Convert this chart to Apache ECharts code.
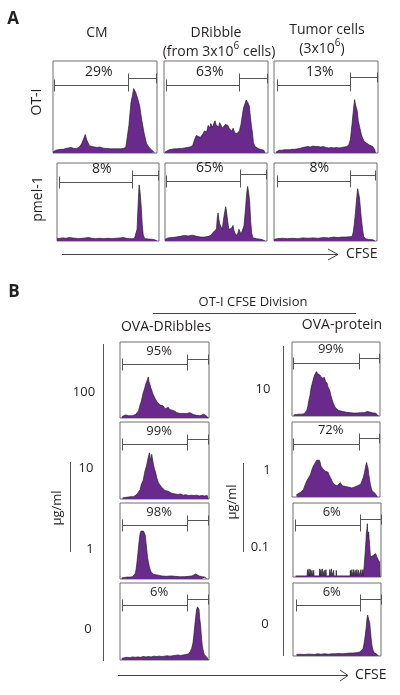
<!DOCTYPE html>
<html><head><meta charset="utf-8">
<script src="https://cdn.jsdelivr.net/npm/echarts@6/dist/echarts.min.js"></script>
<style>html,body{margin:0;padding:0;background:#fff}#c{width:400px;height:695px}</style>
</head><body><div id="c"></div>
<script>
// ---------- DATA (CFSE channel % of range, cell count % of panel height) ----------
const histOT_CM = [[0,1],[2.5,3],[5,3.5],[7.5,4],[10,4],[12.5,5],[15,5.5],[17.5,6],[20,5],[22.5,5],[25,6],[27.5,10],[30,17],[31,20],[32.5,14],[35,8],[37.5,7],[40,6.5],[42.5,6],[45,6.5],[47.5,5.5],[50,5],[52.5,5],[55,4.5],[57.5,4.5],[60,4.5],[62.5,4.5],[65,4.5],[67.5,5],[70,6],[71,8],[73,30],[75,55],[76.5,63],[77.5,70],[78.5,72],[79.5,66],[80.5,67],[82,57],[83.5,50],[85,38],[87.5,22],[90,10],[92.5,6],[95,3],[97,1],[97.5,0]];
const histOT_DR = [[1,1],[2.5,3],[5,3.5],[7.5,4],[10,4.5],[12.5,4.5],[15,5],[17.5,5],[20,5.5],[22.5,6],[25,6.5],[27.5,8],[29.5,15],[31,19],[33,18],[35,17],[37.5,21],[39,24],[40,26],[41,23],[42.5,30],[44,27],[45,32],[46.5,28],[47.5,30],[49,35],[50,31],[51,33],[52.5,28],[53.5,33],[55,30],[56,27],[57.5,26],[59,31],[60,29],[61.5,30],[62.5,27],[64,25],[65,24],[66.5,27],[68,22],[70,21],[71,20],[72.5,24],[74,31],[75.5,42],[76.5,49],[78,54],[79,57.5],[80.5,55],[82,51],[83,40],[84,30],[85,22],[86,11],[87.5,7],[89,5.5],[91,4.5],[93.5,3.7],[96,3],[97,0]];
const histOT_TU = [[2,1],[3.5,2.5],[5,3],[7.5,3],[10,3.5],[12.5,3.5],[15,3.5],[17.5,4],[20,4],[22.5,4.5],[25,5],[27.5,6],[30,6.5],[32.5,7],[35,6.5],[37.5,7.5],[40,7],[42.5,7],[45,6.5],[47.5,7],[50,6],[52.5,5.5],[55,6],[57.5,5.5],[60,6],[62.5,5.5],[65,6],[67.5,6.5],[70,7],[72,9],[73.5,15],[75,31],[76.5,48],[77.5,58],[78.5,52],[80,46],[81,35],[82.6,27],[84,20],[85,16.5],[87,12],[88,11],[90,10],[92,8.5],[93,8.4],[95,7],[96,5.5],[97,3],[97.5,0]];
const histPM_CM = [[0,3],[3,3.5],[6,4],[9,3.5],[12,4.5],[15,4],[18,3.5],[21,3],[25,3.5],[28,4],[31,4.5],[34,3.5],[38,3],[42,3.5],[46,3],[50,3.5],[54,3],[58,3.5],[62,4],[65,4.5],[68,3.5],[71,3],[74,3],[76,3.5],[77.5,6],[78.5,15],[79.5,45],[80.5,72],[81.5,62],[82.5,45],[83.5,22],[84.5,8],[86,3],[90,2.5],[95,2],[98,0]];
const histPM_DR = [[0,2],[3,4],[7,4.5],[11,5],[15,6],[19,7],[23,6.5],[27,7.5],[31,6],[35,5],[39,5],[43,6],[45.5,8],[47,11],[49,13],[50.5,16],[51.3,30],[52,36],[52.8,28],[53.6,22],[55,18],[56.2,15],[57,24],[58,33],[59.5,44],[60.3,38],[61,30],[62,20],[62.7,15],[64,17],[65,16],[66.7,20],[67.5,14],[68.6,10],[70,7],[70.6,6],[71.5,10],[72.5,15],[73.5,12],[74.5,9],[76,14],[77.5,20],[79,42],[80,60],[81,70],[82,62],[83,50],[84,25],[85,10],[86.3,4],[89.5,3],[95,2],[98,0]];
const histPM_TU = [[0,2],[3,3],[8,3.5],[13,3],[18,3.5],[23,3],[28,4],[33,3.5],[38,4],[43,3.5],[48,4.5],[53,4],[58,5],[62,4.5],[66,5],[70,5],[74,5.5],[76,6],[77,12],[78,22],[79,35],[80,51],[81.2,67],[82,62],[83,55],[84,40],[84.7,30],[86,15],[87,6],[88.6,3],[92,2],[96,1.5],[98,0]];
const histDRb100 = [[2,1.5],[4,2.5],[6,4],[8,2.5],[10,3],[12,4.5],[14,3],[16,3.5],[18,5],[19.5,7],[21,10],[22.5,17],[24,22],[26,33],[27.5,38],[28.8,44],[29.7,47],[30.7,50],[31.8,54],[32.5,48],[33.7,44],[34.5,40],[35.6,37],[36.5,33],[37.5,31],[39.3,26],[40,28],[41.2,22],[43,20],[45,17],[46.8,15],[48.5,16],[50.6,12],[52.5,14],[54.3,14],[56,11],[58,11],[60,10],[61.8,9],[64,7],[65.5,8],[67.5,6],[69.3,7],[71,6],[73,8],[75,6],[76.8,5],[78.5,7],[80.5,6],[82.5,4.5],[84.3,5],[86,3.5],[88,4.5],[90,3],[92,3.5],[94,5],[95.5,5],[97,3],[98.5,3],[99,0]];
const histDRb10 = [[3,1.5],[6,2],[9,2.5],[12,3],[15,3],[17,4],[19,6],[20.5,8],[22.5,12],[24,19],[26,24],[28,36],[30,44],[31,50],[32,55],[33,60],[34,54],[35,50],[35.6,58],[36.5,52],[37.5,45],[38.5,40],[39.3,37],[40.5,32],[41.2,28],[43,21.5],[45,18],[47,15],[49,14],[50.5,11],[52,12],[54,10],[56,9],[58,7.5],[60,8],[62,6.5],[65,6],[68,6.5],[71,5],[74,5.5],[77,4.5],[80,5],[83,4.5],[86,5],[89,4],[92,4.5],[95,4],[98,4.5],[99,0]];
const histDRb1 = [[2,1.5],[5,2],[8,2.5],[11,2.5],[14,3],[15.5,4],[17,7],[18,12],[18.9,20],[20,32],[20.8,42],[21.7,52],[22.6,60],[23.5,63],[24.5,64],[25.5,64.5],[26.4,63],[27.3,61],[28.3,58],[29.2,48],[30.2,37],[31,28],[32,22],[33,16],[34,12],[35,9],[36,7.5],[38,6],[40,5.5],[43,5],[47,4],[52,3.5],[57,4],[62,3.5],[67,3],[72,3],[77,3.5],[81,4],[83,5],[85,6.5],[87,5.5],[89,4],[92,3],[96,2.5],[97,0]];
const histDRb0 = [[2,2],[5,3],[8,3.5],[11,3],[14,4],[17,3.5],[20,4],[23,3.5],[26,4.5],[29,4],[32,4.5],[35,4],[38,5],[41,4.5],[44,5],[47,4.5],[50,5],[53,5.5],[56,5],[59,5.5],[62,6],[65,6.5],[68,6],[71,6.5],[74,7],[77,8],[79,11],[80.5,15],[82,22],[83,32],[84,44],[85,55],[86,65],[87,69],[87.5,70],[88.2,68],[88.7,66],[89.5,55],[90.6,44],[91.7,27],[92.5,18],[93.2,14],[94,10],[94.7,7],[96,5],[98,3],[99,0]];
const histProt10 = [[2,1.5],[5,2],[8,2.5],[11,2.5],[14,3],[15.5,5],[17,8],[18,13],[19,20],[20.5,28],[21.7,38],[23,44],[24.7,52],[26,56],[27.8,60],[28.5,58],[29.3,57],[30,59],[31.2,58],[32,55],[33,54],[34,51],[35.4,49],[36.2,50],[36.9,52],[38,47],[39.2,47],[40,44],[40.7,40],[41.8,42],[43,34],[44.3,27],[45.6,22],[47,17],[48.3,13.5],[50,10],[51.3,9],[53,7.5],[55,7],[58,6],[62,5],[66,4.5],[70,4],[74,4],[78,4.5],[82,4.5],[84,5.5],[85.5,6],[87,5],[89.4,5],[92,4],[95,4],[97,3.5],[98,0]];
const histProt1 = [[5,3],[7,4],[9.5,6],[11.4,8],[13,10],[15.2,17],[17,22],[19,26],[21,30],[22.8,37],[24.5,42],[26.6,46],[28,49],[29.3,51],[30.2,48],[31.2,49],[32,46],[33,41],[34,42],[35.4,37],[36.5,38],[38,34.5],[39,35],[40,32],[41,33],[41.8,30],[43.7,26],[45.6,21],[47.5,17],[49.4,18],[51,15],[53.2,15],[55,19],[57,15],[59,13],[60.8,14],[63,12],[65,13],[66.5,11.5],[68,12],[70.3,13],[72,12],[74,14.6],[76,13],[78,17],[79.5,19],[81,26],[82.5,33],[83.7,41],[84.8,46],[85.5,42],[86.3,39],[87.2,30],[88.2,23],[89,17],[90,12],[91,8],[92.4,7],[94,5.5],[95,6],[96,4],[97,0]];
const histProt01 = [[3,1.5],[16,1.5],[16.5,10],[17,1.5],[18,1.5],[18.3,11],[18.7,1.5],[19.5,1.5],[19.8,10],[20.2,1.5],[21.3,1.5],[21.6,9],[22,1.5],[23.2,1.5],[23.5,9],[23.9,1.5],[30,1.5],[30.3,11],[30.7,1.5],[31.5,1.5],[31.8,10],[32.2,1.5],[33,1.5],[33.3,11],[33.7,1.5],[35.3,1.5],[35.6,9],[36,1.5],[37.2,1.5],[37.5,10],[37.9,1.5],[41.4,1.5],[41.7,10],[42.1,1.5],[43.3,1.5],[43.6,11],[44,1.5],[45.9,1.5],[46.2,9],[46.6,1.5],[48.9,1.5],[49.2,9],[49.6,1.5],[64.9,1.5],[65.2,9],[65.6,1.5],[66.7,1.5],[67,10],[67.4,1.5],[68.7,1.5],[69,10],[69.4,1.5],[70.5,1.5],[70.8,9],[71.2,1.5],[72.4,1.5],[72.7,10],[73.1,1.5],[74.3,1.5],[74.6,9],[75,1.5],[77,1.5],[77.3,10],[77.7,1.5],[79.2,1.5],[79.5,10],[79.9,1.5],[80.5,2],[81,16],[82.2,36],[83,50],[83.3,58],[84,65],[84.5,72],[85,55],[85.2,54],[86,61],[86.5,52],[87,45],[88,27],[89,26],[89.8,25],[91,29],[92,27],[92.4,27],[93,30],[94,31.5],[95,28],[95.5,29],[96.5,24],[97,25],[98,22.5],[98.5,20],[98.9,0]];
const histProt0 = [[4,2],[8,2.5],[12,2],[16,2.5],[20,2.5],[24,2],[28,3],[32,2.5],[36,3],[40,2.5],[44,3],[48,3],[52,3.5],[56,3],[60,3.5],[64,4],[68,4],[72,4.5],[76,5.5],[78,7],[79.5,10],[80.5,15],[81.4,22],[82.3,30],[83.3,40],[84,50],[84.8,56],[85.6,55],[86.4,54],[87.2,45],[87.9,35],[88.7,25],[89.4,17],[90.2,11],[91,8],[92.4,4],[94.7,3],[96.2,2],[97,0]];

// gate: [left end, split, right end, left-gate level, right-gate level]
const gatesA1 = [[0.5,72,99.5,74,82],[2.2,72,99,74,82],[2.6,73,98.7,74,83]];
const gatesA2 = [[2,74,99,76,85],[1.3,73.5,98.7,77,86],[2.6,74,98,77,85]];
const gatesBL = [[1.9,75.7,99.2,71,77],[1.9,75.7,99.2,71,77.6],[1.9,75.7,99.2,71,78],[1.9,75.7,99.2,71,78.6]];
const gatesBR = [[1,76,99,72,78],[1,76,99,71,79],[2.7,76.5,100,70,79],[3.8,76.5,100,70,78]];
const pctA1 = ['29%','63%','13%'];
const pctA2 = ['8%','65%','8%'];
const pctBL = ['95%','99%','98%','6%'];
const pctBR = ['99%','72%','6%','6%'];

const colTitlesA = ['CM','DRibble','Tumor cells'];
const rowTitlesA = ['OT-I','pmel-1'];
const colTitlesB = ['OVA-DRibbles','OVA-protein'];
const dosesBL = ['100','10','1','0'];
const dosesBR = ['10','1','0.1','0'];

// ---------- LAYOUT ----------
const panels = [
  {box:[53,61,104,92], hist:histOT_CM, gate:gatesA1[0], pct:pctA1[0], fs:14},
  {box:[164,61,104,92], hist:histOT_DR, gate:gatesA1[1], pct:pctA1[1], fs:14},
  {box:[274,61,104,92], hist:histOT_TU, gate:gatesA1[2], pct:pctA1[2], fs:14},
  {box:[57,163,102,78], hist:histPM_CM, gate:gatesA2[0], pct:pctA2[0], fs:14},
  {box:[165,163,102,78], hist:histPM_DR, gate:gatesA2[1], pct:pctA2[1], fs:14},
  {box:[274,163,103,78], hist:histPM_TU, gate:gatesA2[2], pct:pctA2[2], fs:14},
  {box:[120,342,89,76], hist:histDRb100, gate:gatesBL[0], pct:pctBL[0], fs:13},
  {box:[120,422,89,77], hist:histDRb10, gate:gatesBL[1], pct:pctBL[1], fs:13},
  {box:[120,503,89,76], hist:histDRb1, gate:gatesBL[2], pct:pctBL[2], fs:13},
  {box:[120,583,89,77], hist:histDRb0, gate:gatesBL[3], pct:pctBL[3], fs:13},
  {box:[292,342,88,74], hist:histProt10, gate:gatesBR[0], pct:pctBR[0], fs:13},
  {box:[292,422,88,75], hist:histProt1, gate:gatesBR[1], pct:pctBR[1], fs:13},
  {box:[293,503,88,74], hist:histProt01, gate:gatesBR[2], pct:pctBR[2], fs:13},
  {box:[293,583,88,73], hist:histProt0, gate:gatesBR[3], pct:pctBR[3], fs:13}
];

const FONT = '"Open Sans", "Noto Sans", sans-serif';
const INK = '#231f20';
const PURPLE = '#6a2a8c';

const grid = [], xAxis = [], yAxis = [], series = [];
panels.forEach((p, i) => {
  grid.push({left:p.box[0], top:p.box[1], width:p.box[2], height:p.box[3], show:true,
    borderColor:'#6e6e6e', borderWidth:1, backgroundColor:'#fff'});
  xAxis.push({type:'value', gridIndex:i, min:0, max:100, show:false});
  yAxis.push({type:'value', gridIndex:i, min:0, max:100, show:false});
  series.push({type:'line', xAxisIndex:i, yAxisIndex:i, data:p.hist, showSymbol:false, symbol:'none',
    animation:false, lineStyle:{color:'#222', width:0.7}, areaStyle:{color:PURPLE, opacity:1}, z:2});
  series.push({type:'custom', xAxisIndex:i, yAxisIndex:i, data:[p.gate], animation:false, silent:true, z:3,
    renderItem:function(params, api){
      const x0=api.value(0), xm=api.value(1), x1=api.value(2), yL=api.value(3), yR=api.value(4);
      const a=api.coord([x0,yL]), b=api.coord([xm,yL]), c=api.coord([xm,yR]), d=api.coord([x1,yR]);
      const st={stroke:'#555', lineWidth:1};
      const r=v=>Math.round(v)+0.5;
      const L=(X1,Y1,X2,Y2)=>({type:'line', shape:{x1:r(X1),y1:r(Y1),x2:r(X2),y2:r(Y2)}, style:st});
      const t=api.coord([44,yL]);
      return {type:'group', children:[
        L(a[0],a[1],b[0],b[1]), L(a[0],a[1]-6,a[0],a[1]+6), L(b[0],b[1]-6,b[0],b[1]+6),
        L(c[0],c[1],d[0],d[1]), L(c[0],c[1]-5,c[0],c[1]+5), L(d[0],d[1]-5,d[0],d[1]+5),
        {type:'text', x:t[0], y:t[1]-13, style:{text:p.pct, font:p.fs+'px '+FONT, fill:INK, align:'center', verticalAlign:'middle'}}
      ]};
    }});
});

function T(text, x, y, size, opts) {
  opts = opts || {};
  return {type:'text', x:x, y:y, rotation:opts.rot||0, silent:true, z:10,
    style:{text:text, font:(opts.bold?'bold ':'')+size+'px '+FONT, fill:INK,
      align:opts.align||'center', verticalAlign:'middle', rich:opts.rich}};
}
function Ln(x1,y1,x2,y2,c,w){ return {type:'line', silent:true, z:10, shape:{x1,y1,x2,y2}, style:{stroke:c||'#444', lineWidth:w||1}}; }
function Pl(pts,c){ return {type:'polyline', silent:true, z:10, shape:{points:pts}, style:{stroke:c||'#444', lineWidth:1, fill:null}}; }

const supRich = {n:{fontSize:14, fontFamily:FONT, fill:INK, lineHeight:18, verticalAlign:'bottom'},
                 s:{fontSize:10, fontFamily:FONT, fill:INK, lineHeight:18, verticalAlign:'top'}};

const graphic = [
  T('A', 13, 19, 17, {bold:true}),
  T(colTitlesA[0], 97, 33, 14),
  T(colTitlesA[1], 216, 33, 14),
  T('{n|(from 3x10}{s|6}{n| cells)}', 219, 50, 14, {rich:supRich}),
  T(colTitlesA[2], 327, 30, 14),
  T('{n|(3x10}{s|6}{n|)}', 322, 47, 14, {rich:supRich}),
  T(rowTitlesA[0], 37, 102, 14, {rot:Math.PI/2}),
  T(rowTitlesA[1], 38, 199, 14, {rot:Math.PI/2}),
  Ln(62, 254.5, 338, 254.5, '#444'),
  Pl([[328,249],[338,254.5],[328,260]], '#444'),
  T('CFSE', 346, 254, 14, {align:'left'}),
  T('B', 14, 292, 17, {bold:true}),
  T('OT-I CFSE Division', 253, 302, 13),
  Ln(153, 313.5, 356, 313.5, '#444'),
  T(colTitlesB[0], 166, 327, 14),
  T(colTitlesB[1], 342, 325, 14),
  Ln(103.5, 344, 103.5, 661, '#555'),
  Ln(283.5, 346, 283.5, 656, '#555'),
  Ln(70.5, 462, 70.5, 552, '#555'),
  Ln(243.5, 463, 243.5, 552, '#555'),
  T('μg/ml', 57, 508, 13, {rot:Math.PI/2}),
  T('μg/ml', 232, 502, 13, {rot:Math.PI/2}),
  T(dosesBL[0], 84, 392, 13), T(dosesBL[1], 86, 468, 13), T(dosesBL[2], 90, 549, 13), T(dosesBL[3], 88, 629, 13),
  T(dosesBR[0], 263, 389, 13), T(dosesBR[1], 267, 470, 13), T(dosesBR[2], 260, 547, 13), T(dosesBR[3], 265, 624, 13),
  Ln(118, 675.5, 348, 675.5, '#444'),
  Pl([[340,670],[348,675.5],[340,681]], '#444'),
  T('CFSE', 355, 675, 14, {align:'left'})
];

const chart = echarts.init(document.getElementById('c'), null, {renderer:'canvas'});
chart.setOption({animation:false, backgroundColor:'#fff', grid, xAxis, yAxis, series, graphic});
</script></body></html>
